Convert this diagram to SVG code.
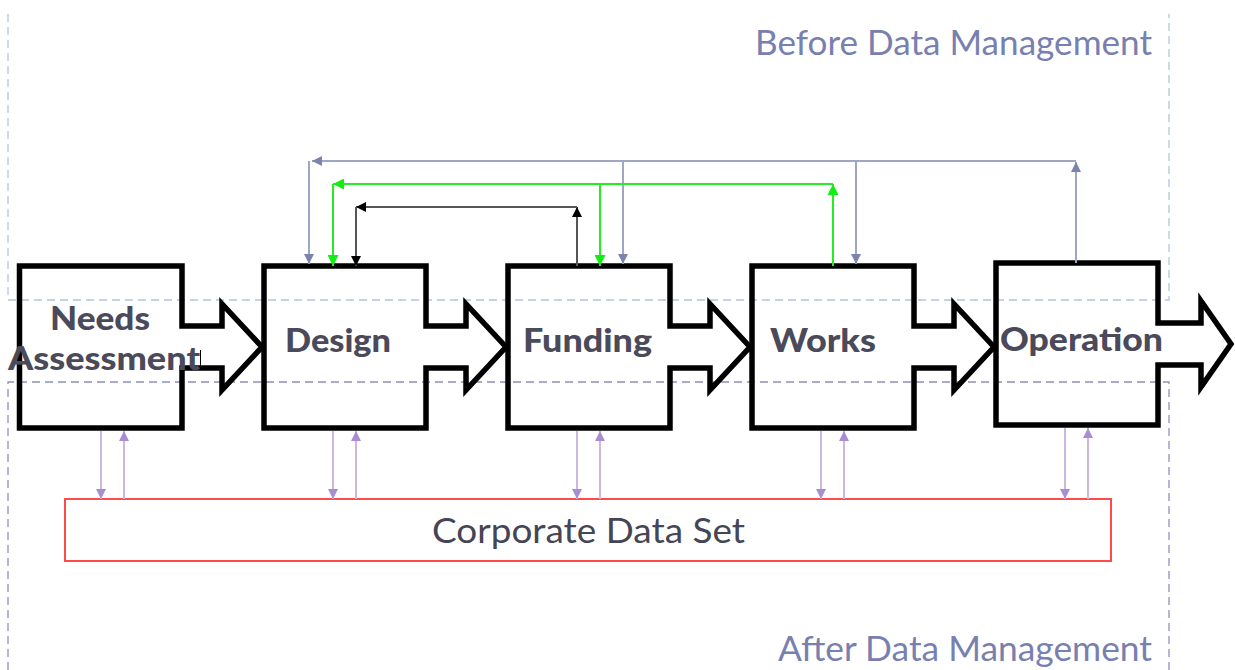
<svg xmlns="http://www.w3.org/2000/svg" width="1235" height="670" viewBox="0 0 1235 670">
  <style>
    .zone-a { stroke: #b4c4da; stroke-width: 1.3; stroke-dasharray: 8 5; fill: none; }
    .zone-b { stroke: #8e90b8; stroke-width: 1.3; stroke-dasharray: 8 5; fill: none; }
    .zone-label { font-family: Lato, "Open Sans", sans-serif; font-size: 34px; fill: #7880b0; }
    .stage { fill: none; stroke: #000; stroke-width: 5.5; stroke-linejoin: miter; stroke-miterlimit: 10; }
    .stage-label { font-family: Lato, "Open Sans", sans-serif; font-weight: 900; font-size: 32px; fill: #4a4a5a; }
    .fb-blue { stroke: #9ea6c6; stroke-width: 2; fill: none; }
    .fb-green { stroke: #22ee22; stroke-width: 2; fill: none; }
    .fb-black { stroke: #555; stroke-width: 2; fill: none; }
    .data { stroke: #cbb8e2; stroke-width: 2; fill: none; }
    .store { fill: #fff; stroke: #ff4a4a; stroke-width: 2; }
    .store-label { font-family: Lato, "Open Sans", sans-serif; font-size: 34px; fill: #454555; }
  </style>
  <defs>
    <marker id="ah-blue" viewBox="0 0 10 10" refX="10" refY="5" markerWidth="10" markerHeight="10" markerUnits="userSpaceOnUse" orient="auto">
      <path d="M0,0 L10,5 L0,10 Z" fill="#7a84ac"/>
    </marker>
    <marker id="ah-green" viewBox="0 0 10 10" refX="10" refY="5" markerWidth="11" markerHeight="11" markerUnits="userSpaceOnUse" orient="auto">
      <path d="M0,0 L10,5 L0,10 Z" fill="#11ee11"/>
    </marker>
    <marker id="ah-black" viewBox="0 0 10 10" refX="10" refY="5" markerWidth="10" markerHeight="10" markerUnits="userSpaceOnUse" orient="auto">
      <path d="M0,0 L10,5 L0,10 Z" fill="#000"/>
    </marker>
    <marker id="ah-data" viewBox="0 0 10 10" refX="10" refY="5" markerWidth="10" markerHeight="10" markerUnits="userSpaceOnUse" orient="auto">
      <path d="M0,0 L10,5 L0,10 Z" fill="#a88ed0"/>
    </marker>
  </defs>

  <!-- before / after zones -->
  <g id="zones">
    <path class="zone-a" d="M8,14 V300 H1169 V14"/>
    <path class="zone-b" d="M8,670 V382 H1169 V670"/>
    <text class="zone-label" x="755" y="55" textLength="397" lengthAdjust="spacingAndGlyphs">Before Data Management</text>
    <text class="zone-label" x="778" y="661" textLength="374" lengthAdjust="spacingAndGlyphs">After Data Management</text>
  </g>

  <!-- process stages: box with outgoing block arrow -->
  <g id="needs-assessment">
    <path class="stage" d="M19.5,266 H182 V326 H222 V304 L262,347 L222,390 V368 H182 V428 H19.5 Z"/>
    <line x1="200.5" y1="350" x2="200.5" y2="368" stroke="#000" stroke-width="1"/>
    <text class="stage-label" x="50" y="330" textLength="100" lengthAdjust="spacingAndGlyphs">Needs</text>
    <text class="stage-label" x="8" y="370" textLength="192" lengthAdjust="spacingAndGlyphs">Assessment</text>
  </g>
  <g id="design">
    <path class="stage" d="M264,266 H426 V326 H466 V304 L506,347 L466,390 V368 H426 V428 H264 Z"/>
    <text class="stage-label" x="285" y="352" textLength="106" lengthAdjust="spacingAndGlyphs">Design</text>
  </g>
  <g id="funding">
    <path class="stage" d="M508,266 H670 V326 H710 V304 L750,347 L710,390 V368 H670 V428 H508 Z"/>
    <text class="stage-label" x="523" y="352" textLength="129" lengthAdjust="spacingAndGlyphs">Funding</text>
  </g>
  <g id="works">
    <path class="stage" d="M752,266 H914 V326 H954 V304 L994,347 L954,390 V368 H914 V428 H752 Z"/>
    <text class="stage-label" x="770" y="352" textLength="106" lengthAdjust="spacingAndGlyphs">Works</text>
  </g>
  <g id="operation">
    <path class="stage" d="M996,263 H1158 V323 H1201 V301 L1231,344 L1201,387 V365 H1158 V425 H996 Z"/>
    <text class="stage-label" x="1000" y="351" textLength="163" lengthAdjust="spacingAndGlyphs">Operation</text>
  </g>

  <!-- shared data store -->
  <g id="corporate-data-set">
    <rect class="store" x="65" y="499" width="1046" height="62"/>
    <text class="store-label" x="432" y="543" textLength="313" lengthAdjust="spacingAndGlyphs">Corporate Data Set</text>
  </g>

  <g id="connectors">
    <!-- feedback from Operation -->
    <line class="fb-blue" x1="1076" y1="263" x2="1076" y2="162" marker-end="url(#ah-blue)"/>
    <line class="fb-blue" x1="1076" y1="161" x2="312" y2="161" marker-end="url(#ah-blue)"/>
    <line class="fb-blue" x1="309" y1="161" x2="309" y2="264" marker-end="url(#ah-blue)"/>
    <line class="fb-blue" x1="623" y1="161" x2="623" y2="264" marker-end="url(#ah-blue)"/>
    <line class="fb-blue" x1="856" y1="161" x2="856" y2="264" marker-end="url(#ah-blue)"/>
    <!-- feedback from Works -->
    <line class="fb-green" x1="833" y1="266" x2="833" y2="184" marker-end="url(#ah-green)"/>
    <line class="fb-green" x1="833" y1="184" x2="333" y2="184" marker-end="url(#ah-green)"/>
    <line class="fb-green" x1="333" y1="184" x2="333" y2="266" marker-end="url(#ah-green)"/>
    <line class="fb-green" x1="600" y1="184" x2="600" y2="266" marker-end="url(#ah-green)"/>
    <!-- feedback from Funding -->
    <line class="fb-black" x1="577" y1="266" x2="577" y2="207" marker-end="url(#ah-black)"/>
    <line class="fb-black" x1="577" y1="207" x2="356" y2="207" marker-end="url(#ah-black)"/>
    <line class="fb-black" x1="356" y1="207" x2="356" y2="266" marker-end="url(#ah-black)"/>
    <!-- stage <-> data store -->
    <line class="data" x1="101" y1="431" x2="101" y2="499" marker-end="url(#ah-data)"/>
    <line class="data" x1="124" y1="499" x2="124" y2="431" marker-end="url(#ah-data)"/>
    <line class="data" x1="333" y1="431" x2="333" y2="499" marker-end="url(#ah-data)"/>
    <line class="data" x1="356" y1="499" x2="356" y2="431" marker-end="url(#ah-data)"/>
    <line class="data" x1="577" y1="431" x2="577" y2="499" marker-end="url(#ah-data)"/>
    <line class="data" x1="600" y1="499" x2="600" y2="431" marker-end="url(#ah-data)"/>
    <line class="data" x1="821" y1="431" x2="821" y2="499" marker-end="url(#ah-data)"/>
    <line class="data" x1="844" y1="499" x2="844" y2="431" marker-end="url(#ah-data)"/>
    <line class="data" x1="1065" y1="428" x2="1065" y2="499" marker-end="url(#ah-data)"/>
    <line class="data" x1="1088" y1="499" x2="1088" y2="428" marker-end="url(#ah-data)"/>
  </g>
</svg>
